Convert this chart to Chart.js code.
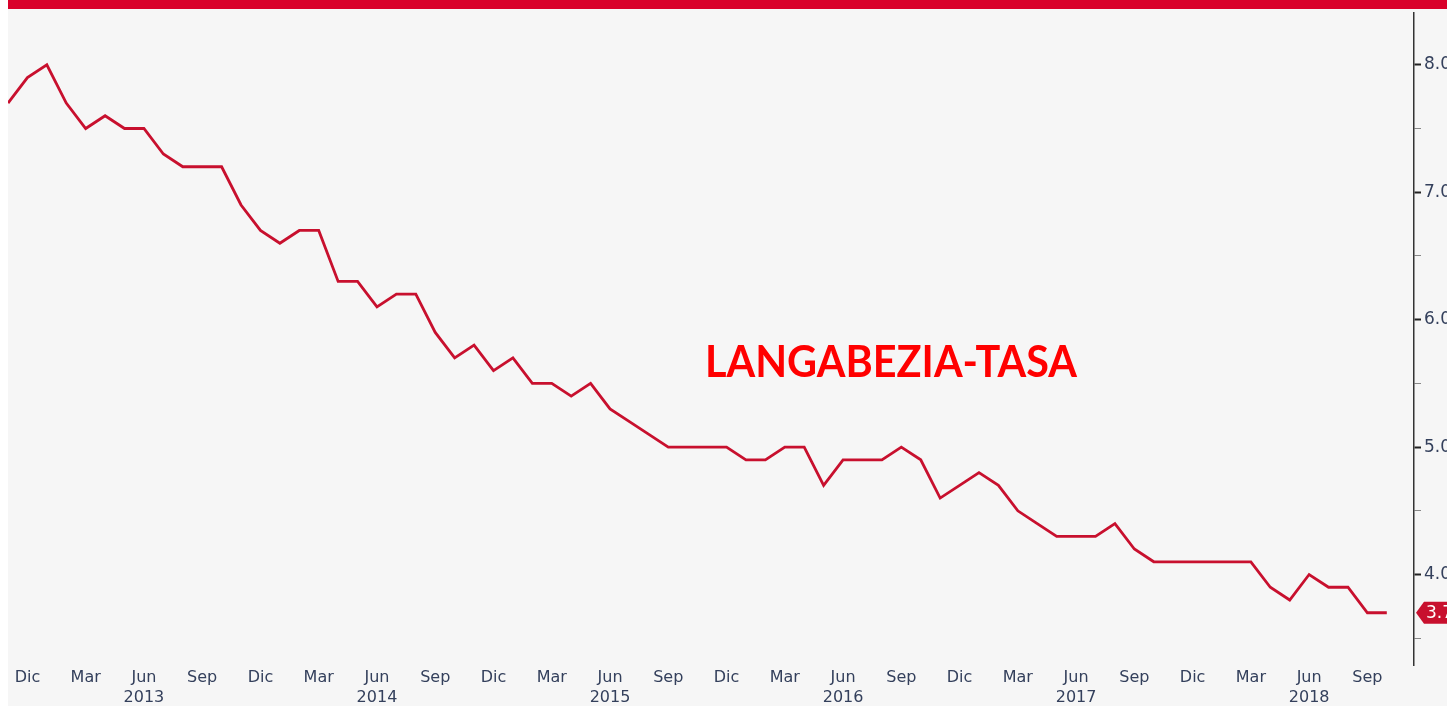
<!DOCTYPE html>
<html>
<head>
<meta charset="utf-8">
<script src="https://cdn.jsdelivr.net/npm/chart.js@4/dist/chart.umd.min.js"></script>
<style>
  html, body { margin: 0; padding: 0; background: #ffffff; }
  #wrap { width: 1447px; height: 706px; }
</style>
</head>
<body>
<div id="wrap"><canvas id="rateChart" width="1447" height="706"></canvas></div>
<script>
// Monthly data, Nov 2012 .. Oct 2018
const months = [
  'Nov','Dic',
  'Ene','Feb','Mar','Abr','May','Jun','Jul','Ago','Sep','Oct','Nov','Dic',
  'Ene','Feb','Mar','Abr','May','Jun','Jul','Ago','Sep','Oct','Nov','Dic',
  'Ene','Feb','Mar','Abr','May','Jun','Jul','Ago','Sep','Oct','Nov','Dic',
  'Ene','Feb','Mar','Abr','May','Jun','Jul','Ago','Sep','Oct','Nov','Dic',
  'Ene','Feb','Mar','Abr','May','Jun','Jul','Ago','Sep','Oct','Nov','Dic',
  'Ene','Feb','Mar','Abr','May','Jun','Jul','Ago','Sep','Oct'
];
const years = [
  2012, 2012,
  2013, 2013, 2013, 2013, 2013, 2013, 2013, 2013, 2013, 2013, 2013, 2013,
  2014, 2014, 2014, 2014, 2014, 2014, 2014, 2014, 2014, 2014, 2014, 2014,
  2015, 2015, 2015, 2015, 2015, 2015, 2015, 2015, 2015, 2015, 2015, 2015,
  2016, 2016, 2016, 2016, 2016, 2016, 2016, 2016, 2016, 2016, 2016, 2016,
  2017, 2017, 2017, 2017, 2017, 2017, 2017, 2017, 2017, 2017, 2017, 2017,
  2018, 2018, 2018, 2018, 2018, 2018, 2018, 2018, 2018, 2018
];
const rate = [
  7.7, 7.9,
  8.0, 7.7, 7.5, 7.6, 7.5, 7.5, 7.3, 7.2, 7.2, 7.2, 6.9, 6.7,
  6.6, 6.7, 6.7, 6.3, 6.3, 6.1, 6.2, 6.2, 5.9, 5.7, 5.8, 5.6,
  5.7, 5.5, 5.5, 5.4, 5.5, 5.3, 5.2, 5.1, 5.0, 5.0, 5.0, 5.0,
  4.9, 4.9, 5.0, 5.0, 4.7, 4.9, 4.9, 4.9, 5.0, 4.9, 4.6, 4.7,
  4.8, 4.7, 4.5, 4.4, 4.3, 4.3, 4.3, 4.4, 4.2, 4.1, 4.1, 4.1,
  4.1, 4.1, 4.1, 3.9, 3.8, 4.0, 3.9, 3.9, 3.7, 3.7
];
const xTickMonths = ['Dic', 'Mar', 'Jun', 'Sep'];
const yTicks = [3.5, 4.0, 4.5, 5.0, 5.5, 6.0, 6.5, 7.0, 7.5, 8.0];
const chartTitle = 'LANGABEZIA-TASA';

const RED_LINE = '#c8102e';
const TEXT_COL = '#34405c';

// ── Background, top band, title and last-value tag ──────────────────────
const decorPlugin = {
  id: 'decor',
  beforeDraw(chart) {
    const c = chart.ctx;
    c.save();
    c.fillStyle = '#f6f6f6';
    c.fillRect(8, 0, chart.width - 8, chart.height);
    c.fillStyle = '#d9002a';
    c.fillRect(8, 0, chart.width - 8, 9);
    c.restore();
  },
  afterDatasetsDraw(chart) {
    const c = chart.ctx;
    // title, fitted to the reference width
    c.save();
    c.font = 'bold 43px Lato, "Open Sans", sans-serif';
    c.fillStyle = '#ff0000';
    c.textBaseline = 'alphabetic';
    const w = c.measureText(chartTitle).width;
    c.translate(705, 377);
    c.scale(372 / w, 1);
    c.fillText(chartTitle, 0, 0);
    c.restore();
  },
  afterDraw(chart) {
    const c = chart.ctx;
    const last = rate[rate.length - 1];
    const y = chart.scales.y.getPixelForValue(last);
    const x0 = chart.chartArea.right + 2;
    c.save();
    c.fillStyle = RED_LINE;
    c.beginPath();
    c.moveTo(x0, y);
    c.lineTo(x0 + 8, y - 11);
    c.lineTo(chart.width + 2, y - 11);
    c.lineTo(chart.width + 2, y + 11);
    c.lineTo(x0 + 8, y + 11);
    c.closePath();
    c.fill();
    c.fillStyle = '#ffffff';
    c.font = '17px "DejaVu Sans", sans-serif';
    c.textBaseline = 'middle';
    c.fillText(last.toFixed(1), x0 + 10, y + 1);
    c.restore();
  }
};

const points = rate.map((v, i) => ({ x: i, y: v }));

new Chart(document.getElementById('rateChart'), {
  type: 'line',
  data: {
    datasets: [{
      label: chartTitle,
      data: points,
      borderColor: RED_LINE,
      backgroundColor: 'transparent',
      borderWidth: 2.8,
      pointRadius: 0,
      tension: 0
    }]
  },
  options: {
    responsive: false,
    animation: false,
    layout: { padding: { left: 8, top: 9, right: 0, bottom: 0 } },
    plugins: {
      legend: { display: false },
      tooltip: { enabled: false }
    },
    scales: {
      x: {
        type: 'linear',
        min: 0,
        max: 72.4,
        grid: { display: false, drawTicks: false },
        border: { display: false },
        afterBuildTicks: (scale) => {
          const t = [];
          months.forEach((m, i) => { if (xTickMonths.includes(m)) t.push({ value: i }); });
          scale.ticks = t;
        },
        afterFit: (scale) => { scale.height = 41; },
        ticks: {
          autoSkip: false,
          maxRotation: 0,
          padding: 3,
          color: TEXT_COL,
          font: { family: '"DejaVu Sans", sans-serif', size: 16, lineHeight: 1.25 },
          callback: (v) => {
            const m = months[v];
            return m === 'Jun' ? [m, String(years[v])] : m;
          }
        }
      },
      y: {
        position: 'right',
        min: 3.29,
        max: 8.405,
        afterBuildTicks: (scale) => { scale.ticks = yTicks.map(v => ({ value: v })); },
        afterFit: (scale) => { scale.width = 33; },
        border: { display: true, color: '#333333', width: 1.5 },
        grid: {
          drawOnChartArea: false,
          drawTicks: true,
          tickLength: 7,
          tickColor: (ctx) => Number.isInteger(ctx.tick.value) ? '#222222' : '#888888',
          tickWidth: (ctx) => Number.isInteger(ctx.tick.value) ? 2 : 1
        },
        ticks: {
          padding: 3,
          color: TEXT_COL,
          font: { family: '"DejaVu Sans", sans-serif', size: 17 },
          callback: (v) => Number.isInteger(v) ? v.toFixed(1) : ''
        }
      }
    }
  },
  plugins: [decorPlugin]
});
</script>
</body>
</html>
